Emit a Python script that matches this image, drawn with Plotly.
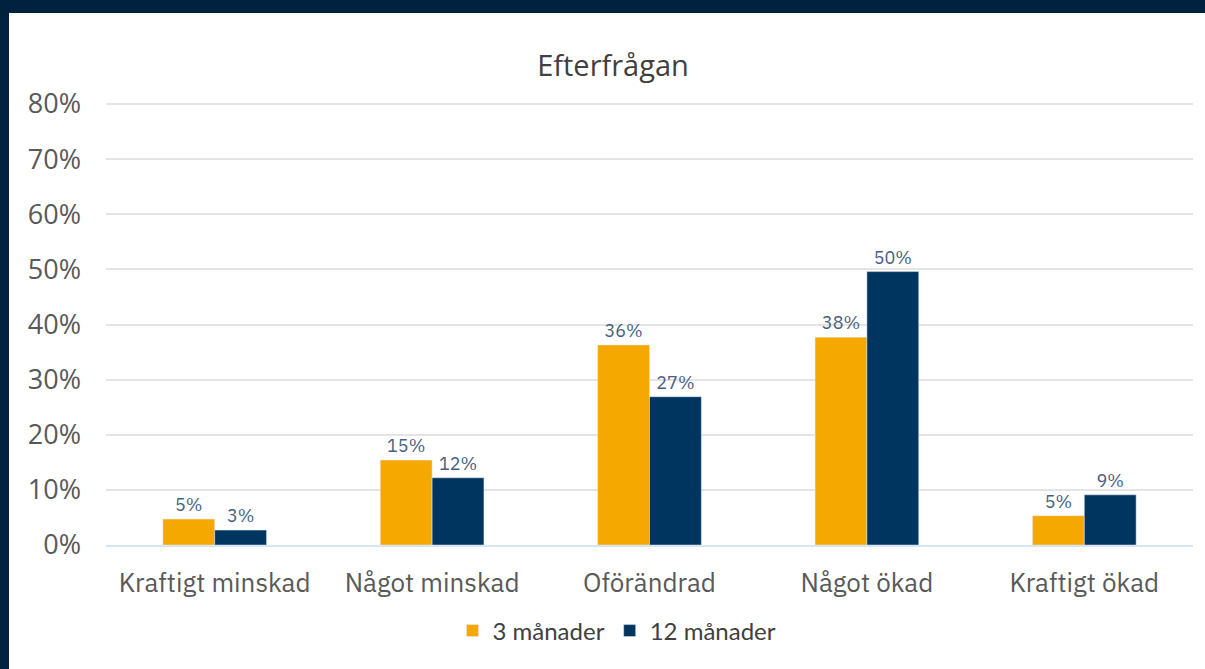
import plotly.graph_objects as go

categories = ["Kraftigt minskad", "Något minskad", "Oförändrad", "Något ökad", "Kraftigt ökad"]
series_names = ["3 månader", "12 månader"]
values_3m = [0.047, 0.154, 0.363, 0.377, 0.053]
values_12m = [0.027, 0.122, 0.269, 0.496, 0.091]
labels_3m = ["5%", "15%", "36%", "38%", "5%"]
labels_12m = ["3%", "12%", "27%", "50%", "9%"]
tick_vals = [0, 0.1, 0.2, 0.3, 0.4, 0.5, 0.6, 0.7, 0.8]
tick_text = ["0%", "10%", "20%", "30%", "40%", "50%", "60%", "70%", "80%"]

W, H = 1205, 669
ml, mr, mt, mb = 106, 12, 102, 124
pw = W - ml - mr
ph = H - mt - mb
y_top = 0.8 * ph / 441.0

label_font = dict(family="IBM Plex Sans, Noto Sans, sans-serif", size=18, color="#48607e")

fig = go.Figure()
fig.add_trace(go.Bar(
    x=categories, y=values_3m, name=series_names[0],
    marker=dict(color="#f5a800"),
    text=labels_3m, textposition="outside", textfont=label_font,
    cliponaxis=False,
))
fig.add_trace(go.Bar(
    x=categories, y=values_12m, name=series_names[1],
    marker=dict(color="#00355f"),
    text=labels_12m, textposition="outside", textfont=label_font,
    cliponaxis=False,
))

# white panel over dark background
fig.add_shape(
    type="rect", xref="paper", yref="paper",
    x0=(9 - ml) / pw, x1=(W - ml) / pw + 0.01,
    y0=-(H - (H - mb)) / ph - 0.01, y1=((H - mb) - 13) / ph,
    fillcolor="white", line=dict(width=0), layer="below",
)

fig.update_layout(
    width=W, height=H,
    margin=dict(l=ml, r=mr, t=mt, b=mb),
    paper_bgcolor="#00223f",
    plot_bgcolor="white",
    barmode="group",
    bargap=0.523,
    bargroupgap=0,
    font=dict(family="Open Sans, sans-serif", color="#595959"),
    title=dict(
        text="Efterfrågan", x=613 / W, xanchor="center",
        y=1 - 66 / H, yanchor="middle",
        font=dict(family="Open Sans, sans-serif", size=29, color="#404040"),
    ),
    legend=dict(
        orientation="h", xanchor="center", yanchor="middle",
        x=(617 - ml) / pw, y=-(631 - (H - mb)) / ph,
        font=dict(family="Lato, sans-serif", size=24, color="#404040"),
        bgcolor="rgba(0,0,0,0)", itemwidth=30,
        traceorder="normal",
    ),
    showlegend=True,
)
fig.update_yaxes(
    range=[0, y_top], tickvals=tick_vals, ticktext=tick_text,
    showgrid=True, gridcolor="#e4e4e4", gridwidth=2,
    zeroline=False, showline=False,
    tickfont=dict(family="Open Sans, sans-serif", size=27, color="#595959"),
    ticklabelstandoff=24,
)
fig.update_xaxes(
    showline=True, linecolor="#d6e6f5", linewidth=2,
    tickfont=dict(family="IBM Plex Sans, Open Sans, sans-serif", size=26, color="#595959"),
    ticks="", ticklabelstandoff=14,
)

fig.write_html(
    "out.html",
    config={"displayModeBar": False},
    post_script="document.body.style.margin='0';document.body.style.background='#00223f';",
)
